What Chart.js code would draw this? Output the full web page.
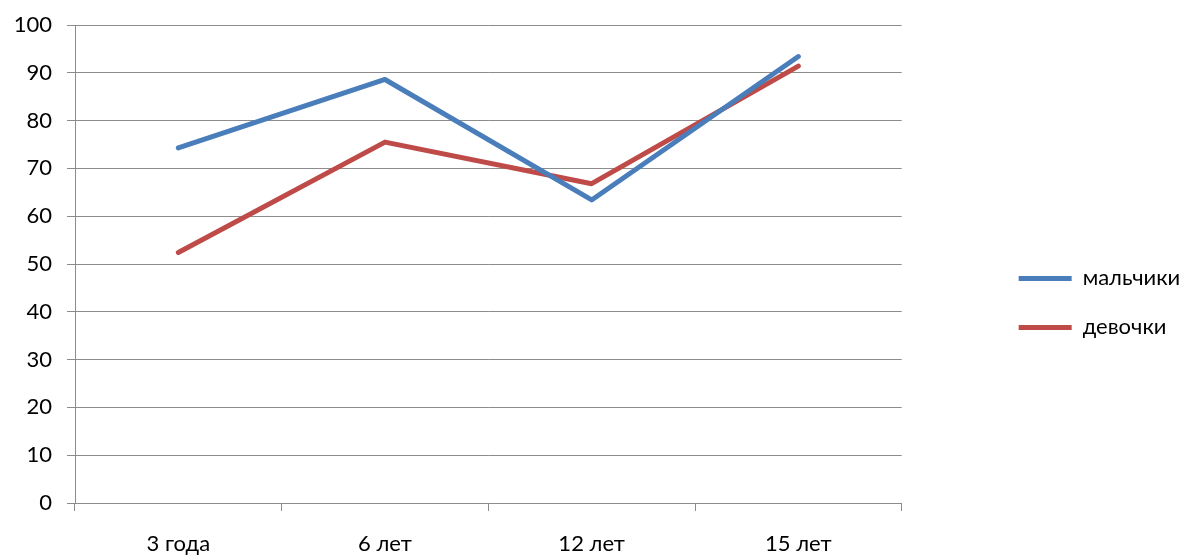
<!DOCTYPE html>
<html>
<head>
<meta charset="utf-8">
<script src="https://cdn.jsdelivr.net/npm/chart.js@4/dist/chart.umd.min.js"></script>
<style>
  html, body { margin: 0; padding: 0; background: #ffffff; }
  #wrap { width: 1192px; height: 556px; }
</style>
</head>
<body>
<div id="wrap"><canvas id="c" width="1192" height="556"></canvas></div>
<script>
const categories = ['3 года', '6 лет', '12 лет', '15 лет'];
const boys = [74.3, 88.6, 63.4, 93.4];
const girls = [52.4, 75.5, 66.8, 91.4];
const seriesNames = ['мальчики', 'девочки'];
const yTicks = [0, 10, 20, 30, 40, 50, 60, 70, 80, 90, 100];

const FONT = 'Lato, "Open Sans", sans-serif';
const GRID = '#8c8c8c';

new Chart(document.getElementById('c'), {
  type: 'line',
  data: {
    labels: categories,
    datasets: [
      { label: seriesNames[0], data: boys, borderColor: '#4a7ebb', backgroundColor: '#4a7ebb',
        borderWidth: 5, pointRadius: 0, tension: 0, borderCapStyle: 'round', borderJoinStyle: 'round' },
      { label: seriesNames[1], data: girls, borderColor: '#be4b48', backgroundColor: '#be4b48',
        borderWidth: 5, pointRadius: 0, tension: 0, borderCapStyle: 'round', borderJoinStyle: 'round' }
    ]
  },
  options: {
    responsive: false,
    animation: false,
    layout: { padding: { top: 25, left: 0, right: 2, bottom: 0 } },
    scales: {
      x: {
        offset: true,
        grid: { offset: true, drawOnChartArea: false, drawTicks: true, tickLength: 8, color: GRID },
        border: { display: true, color: GRID, width: 1 },
        ticks: { color: '#000', font: { family: FONT, size: 22 }, padding: 20, maxRotation: 0 },
        afterFit(s) { s.height = 53; }
      },
      y: {
        min: 0, max: 100,
        afterBuildTicks(s) { s.ticks = yTicks.map(v => ({ value: v })); },
        grid: { color: GRID, tickLength: 8, drawTicks: true },
        border: { display: true, color: GRID, width: 1 },
        ticks: { color: '#000', font: { family: FONT, size: 22 }, padding: 15 },
        afterFit(s) { s.width = 75; s.paddingTop = 0; }
      },
      // empty spacer between the plot and the legend
      gap: {
        type: 'linear', position: 'right', display: true,
        grid: { display: false }, border: { display: false },
        ticks: { display: false },
        afterFit(s) { s.width = 90; }
      }
    },
    plugins: {
      legend: {
        position: 'right',
        fullSize: true,
        title: { display: true, text: ' ', font: { family: FONT, size: 19 }, padding: 1 },
        labels: {
          usePointStyle: true,
          pointStyle: 'line',
          pointStyleWidth: 53,
          padding: 27,
          color: '#000',
          font: { family: FONT, size: 22 }
        }
      },
      tooltip: { enabled: false }
    }
  }
});
</script>
</body>
</html>
